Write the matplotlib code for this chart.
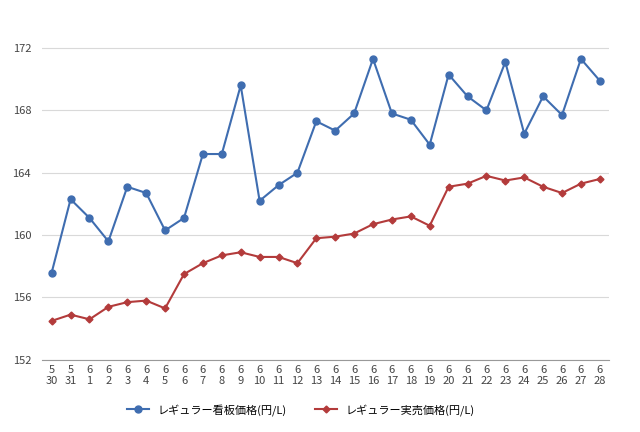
import matplotlib.pyplot as plt

plt.rcParams["font.family"] = ["Noto Sans CJK JP"]

months = ["5", "5"] + ["6"] * 28
days = ["30", "31"] + [str(d) for d in range(1, 29)]
signboard = [157.6, 162.3, 161.1, 159.6, 163.1, 162.7, 160.3, 161.1, 165.2, 165.2,
             169.6, 162.2, 163.2, 164.0, 167.3, 166.7, 167.8, 171.3, 167.8, 167.4,
             165.8, 170.3, 168.9, 168.0, 171.1, 166.5, 168.9, 167.7, 171.3, 169.9]
actual = [154.5, 154.9, 154.6, 155.4, 155.7, 155.8, 155.3, 157.5, 158.2, 158.7,
          158.9, 158.6, 158.6, 158.2, 159.8, 159.9, 160.1, 160.7, 161.0, 161.2,
          160.6, 163.1, 163.3, 163.8, 163.5, 163.7, 163.1, 162.7, 163.3, 163.6]
yticks = [152, 156, 160, 164, 168, 172]

fig, ax = plt.subplots(figsize=(6.4, 4.32), dpi=100)
fig.subplots_adjust(left=0.066, right=0.952, top=0.925, bottom=0.167)
x = range(len(days))
ax.plot(x, signboard, color="#3f6db0", marker="o", markersize=5, linewidth=1.5,
        label="レギュラー看板価格(円/L)")
ax.plot(x, actual, color="#b33b3b", marker="D", markersize=3.5, linewidth=1.5,
        label="レギュラー実売価格(円/L)")

ax.set_ylim(152, 173)
ax.set_yticks(yticks)
ax.set_xlim(-0.5, len(days) - 0.5)
ax.set_xticks(list(x))
ax.set_xticklabels([f"{m}\n{d}" for m, d in zip(months, days)])
ax.tick_params(axis="both", labelsize=8, colors="#444444", length=0)
ax.tick_params(axis="y", pad=8)
ax.grid(axis="y", color="#d9d9d9", linewidth=0.8)
ax.set_axisbelow(True)
for s in ["top", "right", "left"]:
    ax.spines[s].set_visible(False)
ax.spines["bottom"].set_color("#999999")
fig.legend(loc="lower center", ncol=2, frameon=False, fontsize=8,
           bbox_to_anchor=(0.47, 0.015), columnspacing=2.5)

fig.savefig("out.png", dpi=100)
